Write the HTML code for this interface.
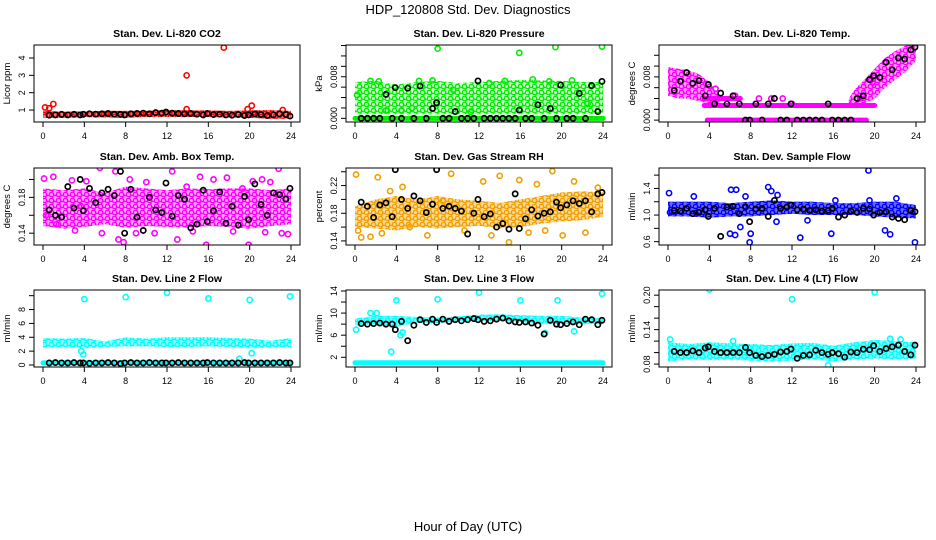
<!DOCTYPE html>
<html><head><meta charset="utf-8"><style>
body{margin:0;background:#fff;}
svg{display:block;font-family:"Liberation Sans",sans-serif;}
</style></head><body>
<svg id="chart" width="936" height="540" viewBox="0 0 936 540">
<text x="468" y="14" font-size="13" text-anchor="middle">HDP_120808  Std. Dev. Diagnostics</text>
<text x="468" y="531" font-size="13" text-anchor="middle">Hour of Day (UTC)</text>
</svg>
<script>
// shared data
const bandHours=[0,2,4,6,8,10,12,14,16,18,20,22,24];
const blkHours=[0.6,1.2,1.8,2.4,3.0,3.6,3.9,4.5,5.1,5.7,6.3,6.9,7.5,7.9,8.5,9.1,9.7,10.3,10.9,11.5,11.9,12.5,13.1,13.7,14.3,14.9,15.5,15.9,16.5,17.1,17.7,18.3,18.9,19.5,19.9,20.5,21.1,21.7,22.3,22.9,23.5,23.9];
const xTicks=[0,4,8,12,16,20,24];
// P1 CO2
const co2Lo=[0.55,0.55,0.6,0.58,0.55,0.6,0.6,0.6,0.6,0.58,0.55,0.5,0.5];
const co2Hi=[0.95,0.9,0.92,0.95,0.95,0.95,1.0,0.98,0.98,0.95,0.98,1.0,0.95];
const co2PtsX=[0.2,0.6,1.0,13.9,13.9,17.5,19.8,20.2,23.2];
const co2PtsY=[1.15,1.1,1.35,3.0,1.05,4.6,1.05,1.25,1.0];
const co2Blk=[0.7,0.72,0.75,0.72,0.75,0.72,0.75,0.78,0.76,0.78,0.8,0.76,0.75,0.72,0.78,0.8,0.82,0.78,0.85,0.82,0.88,0.82,0.8,0.78,0.8,0.76,0.72,0.8,0.74,0.76,0.72,0.7,0.74,0.68,0.72,0.78,0.74,0.68,0.72,0.78,0.74,0.65];
// P2 Pressure
const prsLo=[0.0008,0.0008,0.0008,0.0008,0.0008,0.0008,0.0008,0.0008,0.0008,0.0008,0.0008,0.0008,0.0008];
const prsHi=[0.007,0.0072,0.0065,0.007,0.0072,0.0068,0.007,0.0072,0.0074,0.0073,0.0072,0.007,0.007];
const prsRowY=[0], prsRowX0=[0], prsRowX1=[24];
const prsPtsX=[8,15.9,19.4,23.9,0.2,1.5,2.3,4.5,6.2,7.5,9.5,11.2,13.0,14.5,17.2,18.8,21.0,22.5,3.0,5.5];
const prsPtsY=[0.0134,0.0126,0.0137,0.0138,0.0045,0.0072,0.0071,0.0015,0.0072,0.0073,0.0055,0.0012,0.0068,0.0072,0.0075,0.0071,0.0073,0.0028,0.0015,0.002];
const prsBlk=[0,0,0,0,0.0046,0,0.0059,0,0.0058,0,0.0062,0,0.0019,0.003,0,0,0.0013,0,0,0,0.0072,0,0,0,0,0,0,0.0016,0,0,0.0026,0,0.0019,0,0.0064,0,0,0.0048,0,0.0063,0.0013,0.0071];
// P3 Li-820 Temp
const tmpHoursA=[0,1,2,3,4,5];
const tmpLoA=[0.0045,0.004,0.004,0.0035,0.003,0.0027];
const tmpHiA=[0.0098,0.0095,0.0092,0.0085,0.007,0.0045];
const tmpHoursB=[17.5,18,19,20,21,22,23,24];
const tmpLoB=[0.003,0.003,0.003,0.004,0.006,0.0075,0.009,0.011];
const tmpHiB=[0.004,0.0055,0.0075,0.0095,0.0115,0.0128,0.0138,0.0138];
const tmpRowY=[0,0.0027,0.004], tmpRowX0=[3.8,3.5,3.5], tmpRowX1=[19.2,20,7];
const tmpPtsX=[4.6,6.5,8.8,10.0,11.1,12.0,18.6,19.8];
const tmpPtsY=[0.0058,0.0045,0.004,0.004,0.004,0.003,0.004,0.007];
const tmpBlk=[0.0055,0.0072,0.0088,0.0068,0.0073,0.0045,0.0066,0.003,0.005,0.003,0.0045,0.003,0,0,0.003,0,0.003,0.004,0,0,0.003,0,0,0,0,0,0.003,0,0,0,0,0.004,0.0045,0.0075,0.0082,0.0079,0.0107,0.0093,0.0115,0.0113,0.013,0.0135];
// P4 Amb box
const ambLo=[0.148,0.145,0.147,0.15,0.146,0.148,0.147,0.146,0.148,0.147,0.145,0.148,0.15];
const ambHi=[0.19,0.188,0.19,0.185,0.192,0.19,0.188,0.19,0.189,0.19,0.19,0.188,0.19];
const ambPtsX=[0.1,0.3,1.0,1.3,2.8,3.1,3.7,4.2,5.7,7.0,7.3,7.8,8.4,9.0,10.0,10.8,12.5,13.0,13.9,14.5,15.2,15.8,16.5,17.8,18.4,19.3,19.9,20.3,21.2,21.5,22.0,22.8,23.1,23.7,5.5];
const ambPtsY=[0.201,0.16,0.203,0.15,0.199,0.143,0.17,0.198,0.14,0.209,0.133,0.13,0.2,0.14,0.197,0.14,0.209,0.133,0.192,0.142,0.203,0.127,0.2,0.202,0.142,0.19,0.127,0.198,0.2,0.141,0.197,0.212,0.14,0.139,0.213];
const ambBlk=[0.166,0.160,0.158,0.192,0.168,0.200,0.165,0.190,0.174,0.185,0.189,0.182,0.209,0.140,0.189,0.158,0.143,0.180,0.166,0.163,0.196,0.159,0.182,0.178,0.146,0.150,0.188,0.153,0.165,0.186,0.151,0.170,0.149,0.181,0.155,0.195,0.172,0.160,0.185,0.183,0.178,0.190];
// P5 RH
const rhLo=[0.16,0.158,0.155,0.16,0.158,0.16,0.162,0.158,0.16,0.165,0.168,0.17,0.175];
const rhHi=[0.19,0.2,0.205,0.2,0.205,0.2,0.198,0.195,0.2,0.205,0.21,0.212,0.21];
const rhPtsX=[0.1,0.3,0.6,1.5,2.2,2.6,3.4,4.6,5.3,7.0,8.5,9.3,10.6,12.4,13.2,14.0,14.9,15.9,16.8,17.6,18.4,19.1,20.1,21.2,22.3,23.5];
const rhPtsY=[0.236,0.155,0.145,0.146,0.232,0.151,0.212,0.218,0.16,0.148,0.198,0.237,0.155,0.226,0.148,0.234,0.138,0.228,0.152,0.222,0.155,0.241,0.148,0.226,0.152,0.217];
const rhBlk=[0.196,0.190,0.174,0.192,0.195,0.175,0.243,0.200,0.187,0.205,0.198,0.181,0.193,0.243,0.187,0.190,0.187,0.183,0.150,0.180,0.200,0.175,0.179,0.160,0.165,0.157,0.208,0.158,0.172,0.185,0.176,0.180,0.182,0.196,0.188,0.192,0.198,0.194,0.198,0.182,0.208,0.210];
// P6 Sample flow
const smpLo=[0.98,0.98,0.96,0.98,0.98,1.0,1.02,1.0,1.0,1.0,0.98,0.96,0.95];
const smpHi=[1.2,1.2,1.2,1.18,1.2,1.22,1.2,1.2,1.18,1.18,1.2,1.2,1.15];
const smpPtsX=[0.1,0.2,2.5,6.0,6.1,6.5,6.6,7.0,7.5,7.9,8.0,9.7,10.0,10.5,10.6,12.8,13.5,15.8,16.2,19.4,19.5,21.0,21.5,22.1,23.9];
const smpPtsY=[1.33,1.04,1.28,0.72,1.38,0.7,1.38,0.82,1.28,0.59,0.72,1.42,1.36,0.9,1.3,0.66,0.92,0.72,1.22,1.67,1.22,0.77,0.71,1.25,0.59];
const smpBlk=[1.07,1.06,1.1,1.02,1.04,1.08,0.98,1.1,0.68,1.12,1.13,1.02,1.12,0.9,1.09,1.1,0.98,1.22,1.1,1.12,1.15,1.08,1.09,1.07,1.08,1.06,1.07,1.1,0.97,1.0,1.06,1.04,1.1,1.09,1.0,1.04,1.05,0.97,0.95,0.93,1.07,1.05];
// P7 Line 2
const l2Lo=[2.5,2.6,2.4,2.6,2.7,2.7,2.6,2.6,2.7,2.6,2.4,2.5,2.6];
const l2Hi=[3.9,3.8,3.9,3.4,4.0,3.8,4.0,4.0,4.0,3.9,3.8,3.5,3.9];
const l2RowY=[0.3], l2RowX0=[0], l2RowX1=[24];
const l2PtsX=[4,8,12,16,20,23.9,3.9,3.7,19.0,20.2];
const l2PtsY=[9.5,9.8,10.4,9.6,9.4,9.9,1.5,2.0,0.9,1.7];
const l2Blk=[0.3,0.35,0.3,0.3,0.35,0.3,0.3,0.25,0.3,0.3,0.35,0.3,0.2,0.3,0.35,0.3,0.3,0.35,0.3,0.3,0.3,0.3,0.35,0.3,0.3,0.3,0.3,0.35,0.3,0.3,0.3,0.3,0.3,0.35,0.3,0.3,0.3,0.3,0.3,0.35,0.3,0.3];
// P8 Line 3
const l3Lo=[7.8,8.0,7.5,8.3,8.2,8.5,8.6,8.6,8.4,8.0,8.0,8.0,8.0];
const l3Hi=[9.0,9.5,9.5,9.3,9.2,9.4,9.7,9.8,9.6,9.5,9.5,9.2,9.0];
const l3RowY=[1.0], l3RowX0=[0], l3RowX1=[24];
const l3PtsX=[0.1,3.5,4.0,4.4,4.6,8.0,12,16,18.4,19.6,21.2,23.9,1.5,2.1];
const l3PtsY=[7.0,3.0,12.3,6.0,6.5,12.5,13.7,12.3,6.4,12.3,6.7,13.5,10.0,10.0];
const l3Blk=[8.1,8.0,8.1,8.2,8.0,8.0,7.0,8.5,5.0,7.8,8.8,8.3,8.9,8.3,8.9,8.5,8.8,8.6,8.8,9.0,8.8,8.5,8.6,8.9,9.1,8.6,8.4,8.3,8.4,8.2,7.8,6.2,8.7,8.0,7.9,8.1,8.4,7.9,8.9,8.8,7.9,8.7];
// P9 Line 4
const l4Lo=[0.085,0.088,0.087,0.088,0.086,0.085,0.086,0.088,0.085,0.088,0.09,0.088,0.09];
const l4Hi=[0.118,0.115,0.118,0.116,0.115,0.113,0.116,0.117,0.112,0.118,0.122,0.12,0.118];
const l4PtsX=[4,12,20,21.5,15.5,6.3,22.5,0.2];
const l4PtsY=[0.21,0.193,0.205,0.124,0.078,0.12,0.123,0.123];
const l4Blk=[0.102,0.1,0.1,0.103,0.1,0.108,0.11,0.102,0.1,0.1,0.1,0.1,0.109,0.1,0.095,0.093,0.095,0.097,0.101,0.102,0.106,0.09,0.095,0.096,0.104,0.1,0.097,0.1,0.098,0.092,0.101,0.1,0.106,0.105,0.112,0.102,0.107,0.11,0.113,0.102,0.096,0.113];

const NS='http://www.w3.org/2000/svg';
const svg=document.getElementById('chart');
function mk(tag,attrs,parent){const e=document.createElementNS(NS,tag);for(const k in attrs)e.setAttribute(k,attrs[k]);(parent||svg).appendChild(e);return e;}
const defs=mk('defs',{});

const panels=[
 {slug:'co2',title:'Stan. Dev. Li-820 CO2',ylab:'Licor ppm',col:0,row:0,dom:[0.31,4.75],ticks:[1,2,3,4],labels:['1','2','3','4'],color:'#ff0000',bands:[[bandHours,co2Lo,co2Hi,0.55]],rows:null,px:co2PtsX,py:co2PtsY,blk:co2Blk},
 {slug:'pressure',title:'Stan. Dev. Li-820 Pressure',ylab:'kPa',col:1,row:0,dom:[-0.0007,0.0141],ticks:[0,0.002,0.004,0.006,0.008,0.010,0.012,0.014],labels:['0.000','','','','0.008','','',''],color:'#00ee00',bands:[[bandHours,prsLo,prsHi,0.18]],rows:[prsRowY,prsRowX0,prsRowX1],px:prsPtsX,py:prsPtsY,blk:prsBlk},
 {slug:'li820-temp',title:'Stan. Dev. Li-820 Temp.',ylab:'degrees C',col:2,row:0,dom:[-0.00035,0.0139],ticks:[0,0.002,0.004,0.006,0.008,0.010,0.012],labels:['0.000','','','','0.008','',''],color:'#ff00ff',bands:[[tmpHoursA,tmpLoA,tmpHiA,0.4],[tmpHoursB,tmpLoB,tmpHiB,0.4]],rows:[tmpRowY,tmpRowX0,tmpRowX1],px:tmpPtsX,py:tmpPtsY,blk:tmpBlk},
 {slug:'amb-box-temp',title:'Stan. Dev. Amb. Box Temp.',ylab:'degrees C',col:0,row:1,dom:[0.1268,0.2128],ticks:[0.14,0.16,0.18,0.20],labels:['0.14','','0.18',''],color:'#ff00ff',bands:[[bandHours,ambLo,ambHi,0.35]],rows:null,px:ambPtsX,py:ambPtsY,blk:ambBlk},
 {slug:'gas-stream-rh',title:'Stan. Dev. Gas Stream RH',ylab:'percent',col:1,row:1,dom:[0.1341,0.2454],ticks:[0.14,0.16,0.18,0.20,0.22,0.24],labels:['0.14','','0.18','','0.22',''],color:'#f0a000',bands:[[bandHours,rhLo,rhHi,0.4]],rows:null,px:rhPtsX,py:rhPtsY,blk:rhBlk},
 {slug:'sample-flow',title:'Stan. Dev. Sample Flow',ylab:'ml/min',col:2,row:1,dom:[0.55,1.707],ticks:[0.6,0.8,1.0,1.2,1.4,1.6],labels:['0.6','','1.0','','1.4',''],color:'#0000ff',bands:[[bandHours,smpLo,smpHi,0.6]],rows:null,px:smpPtsX,py:smpPtsY,blk:smpBlk},
 {slug:'line2-flow',title:'Stan. Dev. Line 2 Flow',ylab:'ml/min',col:0,row:2,dom:[-0.29,10.82],ticks:[0,2,4,6,8,10],labels:['0','2','4','6','8',''],color:'#00ffff',bands:[[bandHours,l2Lo,l2Hi,0.45]],rows:[l2RowY,l2RowX0,l2RowX1],px:l2PtsX,py:l2PtsY,blk:l2Blk},
 {slug:'line3-flow',title:'Stan. Dev. Line 3 Flow',ylab:'ml/min',col:1,row:2,dom:[0.24,14.18],ticks:[2,4,6,8,10,12,14],labels:['2','','6','','10','','14'],color:'#00ffff',bands:[[bandHours,l3Lo,l3Hi,0.55]],rows:[l3RowY,l3RowX0,l3RowX1],px:l3PtsX,py:l3PtsY,blk:l3Blk},
 {slug:'line4-flow',title:'Stan. Dev. Line 4 (LT) Flow',ylab:'ml/min',col:2,row:2,dom:[0.0749,0.209],ticks:[0.08,0.10,0.12,0.14,0.16,0.18,0.20],labels:['0.08','','','0.14','','','0.20'],color:'#00ffff',bands:[[bandHours,l4Lo,l4Hi,0.5]],rows:null,px:l4PtsX,py:l4PtsY,blk:l4Blk}
];
const colOff=[0,312,625], rowTop=[45,168,290], H=77;

panels.forEach(p=>{
 const c=colOff[p.col], T=rowTop[p.row], B=T+H;
 const L=34+c, R=300+c;
 const xs=h=>43+c+h/24*248;
 const ys=v=>B-(v-p.dom[0])/(p.dom[1]-p.dom[0])*H;
 // speckle pattern for point clouds
 const pat=mk('pattern',{id:'pat-'+p.slug,width:7,height:6,patternUnits:'userSpaceOnUse'},defs);
 mk('circle',{cx:2.5,cy:2.5,r:2.2,fill:'none',stroke:p.color,'stroke-width':1.4},pat);
 mk('circle',{cx:6,cy:5.5,r:2.2,fill:'none',stroke:p.color,'stroke-width':1.4},pat);
 const g=mk('g',{});
 
 
 const t=mk('text',{x:(L+R)/2,y:T-8,'font-size':10.5,'font-weight':'bold','text-anchor':'middle'},g);
 t.textContent=p.title;
 
 
 const cp=mk('clipPath',{id:'cp-'+p.slug},g);
 mk('rect',{x:L,y:T,width:R-L,height:H},cp);
 const plot=mk('g',{'clip-path':'url(#cp-'+p.slug+')'},g);
 
 
 p.bands.forEach(b=>{
  const [hx,lo,hi,op]=b;
  let pts=[];
  hx.forEach((h,i)=>pts.push(xs(h)+','+ys(hi[i])));
  for(let i=hx.length-1;i>=0;i--)pts.push(xs(hx[i])+','+ys(lo[i]));
  const poly=mk('polygon',{points:pts.join(' '),fill:p.color,'fill-opacity':op},plot);
  
  
  const poly2=mk('polygon',{points:pts.join(' '),fill:'url(#pat-'+p.slug+')'},plot);
  
  
 });
 if(p.rows){
  p.rows[0].forEach((yv,i)=>{
   const ln=mk('line',{x1:xs(p.rows[1][i]),x2:xs(p.rows[2][i]),y1:ys(yv),y2:ys(yv),stroke:p.color,'stroke-width':5,'stroke-linecap':'round'},plot);
   
   
  });
 }
 p.px.forEach((xv,i)=>{
  const ci=mk('circle',{cx:xs(xv),cy:ys(p.py[i]),r:2.6,fill:'none',stroke:p.color,'stroke-width':1.6},plot);
  
  
 });
 p.blk.forEach((yv,i)=>{
  const ci=mk('circle',{cx:xs(blkHours[i]),cy:ys(yv),r:2.6,fill:'none',stroke:'#000','stroke-width':1.7},plot);
  
  
 });
 const box=mk('rect',{x:L,y:T,width:R-L,height:H,fill:'none',stroke:'#000','stroke-width':1},g);
 
 
 xTicks.forEach(h=>{
  mk('line',{x1:xs(h),x2:xs(h),y1:B,y2:B+5,stroke:'#000'},g);
  const tl=mk('text',{x:xs(h),y:B+17,'font-size':9,'text-anchor':'middle'},g);
  tl.textContent=h;
  
  
 });
 p.ticks.forEach((v,i)=>{
  const y=ys(v);
  mk('line',{x1:L,x2:L-5,y1:y,y2:y,stroke:'#000'},g);
  if(p.labels[i]){
   const tl=mk('text',{x:L-9,y:y,'font-size':9,'text-anchor':'middle',transform:'rotate(-90 '+(L-9)+' '+y+')'},g);
   tl.textContent=p.labels[i];
   
   
  }
 });
 const yl=mk('text',{x:L-24,y:(T+B)/2,'font-size':9.5,'text-anchor':'middle',transform:'rotate(-90 '+(L-24)+' '+((T+B)/2)+')'},g);
 yl.textContent=p.ylab;
 
 
});
</script>
</body></html>
